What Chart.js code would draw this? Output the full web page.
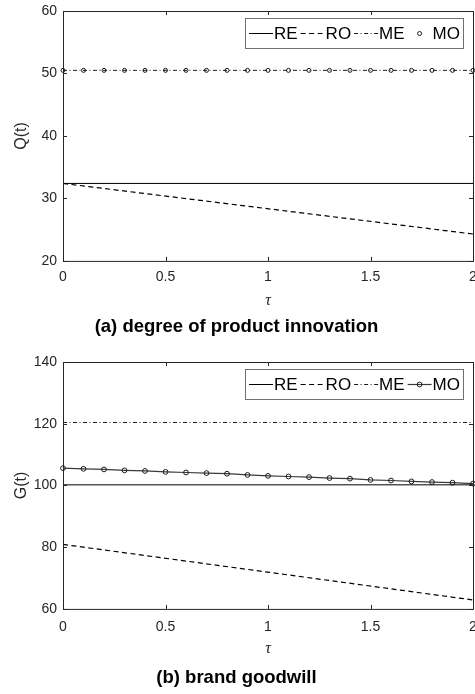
<!DOCTYPE html>
<html>
<head>
<meta charset="utf-8">
<script src="https://cdn.jsdelivr.net/npm/chart.js@4.4.0/dist/chart.umd.min.js"></script>
<style>
  html, body { margin: 0; padding: 0; background: #fff; }
  body { width: 475px; height: 694px; overflow: hidden; }
  canvas { display: block; }
</style>
</head>
<body>
<canvas id="chartQ" width="490" height="340"></canvas>
<canvas id="chartG" width="490" height="354"></canvas>
<script>
// data
const seriesNames = ['RE', 'RO', 'ME', 'MO'];
const tauEnds = [0, 2];
const tauSteps = [0, 0.1, 0.2, 0.3, 0.4, 0.5, 0.6, 0.7, 0.8, 0.9, 1, 1.1, 1.2, 1.3, 1.4, 1.5, 1.6, 1.7, 1.8, 1.9, 2];
const tauTicks = [0, 0.5, 1, 1.5, 2];

// (a) degree of product innovation
const qTicks = [20, 30, 40, 50, 60];
const qRE = [32.4, 32.4];
const qRO = [32.4, 24.3];
const qME = [50.5, 50.5];
const qMO = [50.5, 50.5, 50.5, 50.5, 50.5, 50.5, 50.5, 50.5, 50.5, 50.5, 50.5, 50.5, 50.5, 50.5, 50.5, 50.5, 50.5, 50.5, 50.5, 50.5, 50.5];

// (b) brand goodwill
const gTicks = [60, 80, 100, 120, 140];
const gRE = [100.2, 100.2];
const gRO = [80.9, 62.9];
const gME = [120.4, 120.4];
const gMO = [105.6, 105.4, 105.2, 104.9, 104.7, 104.4, 104.2, 104.0, 103.8, 103.4, 103.1, 102.9, 102.7, 102.4, 102.2, 101.8, 101.6, 101.3, 101.1, 100.9, 100.6];

const FONT = '"Liberation Sans", Arial, Helvetica, sans-serif';
const AXIS_COLOR = '#262626';

function pts(xs, ys) {
  return xs.map((x, i) => ({ x, y: ys[i] }));
}

// matlab style box with inward ticks
const boxPlugin = {
  id: 'matlabBox',
  afterDatasetsDraw(chart) {
    const { ctx, chartArea: a, scales: { x, y } } = chart;
    ctx.save();
    ctx.strokeStyle = AXIS_COLOR;
    ctx.lineWidth = 1;
    ctx.setLineDash([]);
    ctx.beginPath();
    x.ticks.forEach(t => {
      const px = Math.round(x.getPixelForValue(t.value)) + 0.5;
      ctx.moveTo(px, a.bottom); ctx.lineTo(px, a.bottom - 4);
      ctx.moveTo(px, a.top); ctx.lineTo(px, a.top + 4);
    });
    y.ticks.forEach(t => {
      const py = Math.round(y.getPixelForValue(t.value)) + 0.5;
      ctx.moveTo(a.left, py); ctx.lineTo(a.left + 4, py);
      ctx.moveTo(a.right, py); ctx.lineTo(a.right - 4, py);
    });
    ctx.stroke();
    ctx.strokeRect(a.left + 0.5, a.top + 0.5, a.right - a.left, a.bottom - a.top);
    ctx.restore();
  }
};

// legend in a framed box, top right
const legendPlugin = {
  id: 'boxLegend',
  afterDraw(chart) {
    const { ctx, chartArea: a } = chart;
    const sets = chart.data.datasets;
    ctx.save();
    ctx.font = '17px ' + FONT;
    const seg = 25, gap = 1, itemGap = 2, pad = 3, h = 30;
    const widths = sets.map(d => ctx.measureText(d.label).width);
    const w = Math.round(pad * 2 + sets.length * (seg + gap) + widths.reduce((s, v) => s + v, 0) + (sets.length - 1) * itemGap);
    const right = Math.round(a.right - 10);
    const top = Math.round(a.top + 7);
    const left = right - w;
    ctx.fillStyle = '#fff';
    ctx.fillRect(left, top, w, h);
    ctx.strokeStyle = '#707070';
    ctx.lineWidth = 1;
    ctx.strokeRect(left + 0.5, top + 0.5, w, h);
    let cx = left + pad;
    const cy = top + h / 2 + 0.5;
    sets.forEach((d, i) => {
      if (d.showLine !== false) {
        ctx.strokeStyle = d.borderColor;
        ctx.lineWidth = d.borderWidth;
        ctx.setLineDash(d.borderDash || []);
        ctx.beginPath();
        ctx.moveTo(cx + 1, cy); ctx.lineTo(cx + seg, cy);
        ctx.stroke();
      }
      if (d.pointRadius > 0) {
        ctx.setLineDash([]);
        ctx.strokeStyle = d.pointBorderColor;
        ctx.lineWidth = 1;
        ctx.beginPath();
        ctx.arc(cx + seg / 2 + 0.5, cy, d.pointRadius, 0, Math.PI * 2);
        ctx.stroke();
      }
      cx += seg + gap;
      ctx.fillStyle = '#000';
      ctx.textBaseline = 'middle';
      ctx.fillText(d.label, cx, cy + 1);
      cx += widths[i] + itemGap;
    });
    ctx.restore();
  }
};

function makeChart(canvas, cfg) {
  return new Chart(canvas, {
    type: 'line',
    data: {
      datasets: [
        { label: seriesNames[0], data: pts(tauEnds, cfg.re), borderColor: '#000', borderWidth: 1, pointRadius: 0 },
        { label: seriesNames[1], data: pts(tauEnds, cfg.ro), borderColor: '#000', borderWidth: 1.2, borderDash: [5, 3.5], pointRadius: 0 },
        { label: seriesNames[2], data: pts(tauEnds, cfg.me), borderColor: '#000', borderWidth: 0.9, borderDash: [4, 2.5, 1, 2.5], pointRadius: 0 },
        {
          label: seriesNames[3], data: pts(tauSteps, cfg.mo),
          showLine: cfg.moLine, borderColor: '#3a3a3a', borderWidth: 1.2,
          pointRadius: cfg.moRadius, pointBorderColor: '#1a1a1a', pointBorderWidth: 1,
          pointBackgroundColor: 'rgba(0,0,0,0)', clip: false
        }
      ]
    },
    options: {
      responsive: false,
      animation: false,
      events: [],
      // canvas is wider than the window so the last tick label gets cut off like the original
      layout: { padding: { top: cfg.padTop, bottom: cfg.padBottom, left: 0, right: 17 } },
      scales: {
        x: {
          type: 'linear', min: 0, max: 2,
          grid: { display: false, drawTicks: false }, border: { display: false },
          afterBuildTicks: s => { s.ticks = tauTicks.map(v => ({ value: v })); },
          afterFit: s => { s.height = cfg.xAxisH; s.paddingLeft = 0; s.paddingRight = 0; },
          ticks: { color: AXIS_COLOR, font: { family: FONT, size: 14 }, padding: cfg.xTickPad, maxRotation: 0, callback: v => String(v) },
          title: {
            display: true, text: 'τ', color: AXIS_COLOR,
            font: { family: '"Liberation Serif", "DejaVu Serif", serif', style: 'italic', size: 16 },
            padding: { top: 0, bottom: cfg.tauPad }
          }
        },
        y: {
          min: cfg.yTicks[0], max: cfg.yTicks[cfg.yTicks.length - 1],
          grid: { display: false, drawTicks: false }, border: { display: false },
          afterBuildTicks: s => { s.ticks = cfg.yTicks.map(v => ({ value: v })); },
          afterFit: s => { s.width = 63; s.paddingTop = 0; s.paddingBottom = 0; },
          ticks: { color: AXIS_COLOR, font: { family: FONT, size: 14 }, padding: 6 },
          title: {
            display: true, text: cfg.yTitle, color: AXIS_COLOR,
            font: { family: FONT, size: 16 },
            padding: { top: 12, bottom: 0 }
          }
        }
      },
      plugins: {
        legend: { display: false },
        tooltip: { enabled: false },
        title: {
          display: true, position: 'bottom', text: cfg.title, color: '#000',
          font: { family: FONT, size: 18.5, weight: 'bold' }, padding: 0
        }
      }
    },
    plugins: [boxPlugin, legendPlugin]
  });
}

makeChart(document.getElementById('chartQ'), {
  re: qRE, ro: qRO, me: qME, mo: qMO, moLine: false, moRadius: 2,
  yTicks: qTicks, yTitle: 'Q(t)', title: '(a) degree of product innovation',
  padTop: 11, padBottom: 2.4, xAxisH: 54.5, xTickPad: 8, tauPad: 5.2
});

makeChart(document.getElementById('chartG'), {
  re: gRE, ro: gRO, me: gME, mo: gMO, moLine: true, moRadius: 2.4,
  yTicks: gTicks, yTitle: 'G(t)', title: '(b) brand goodwill',
  padTop: 22, padBottom: 5.4, xAxisH: 57.5, xTickPad: 10, tauPad: 8.4
});
</script>
</body>
</html>
